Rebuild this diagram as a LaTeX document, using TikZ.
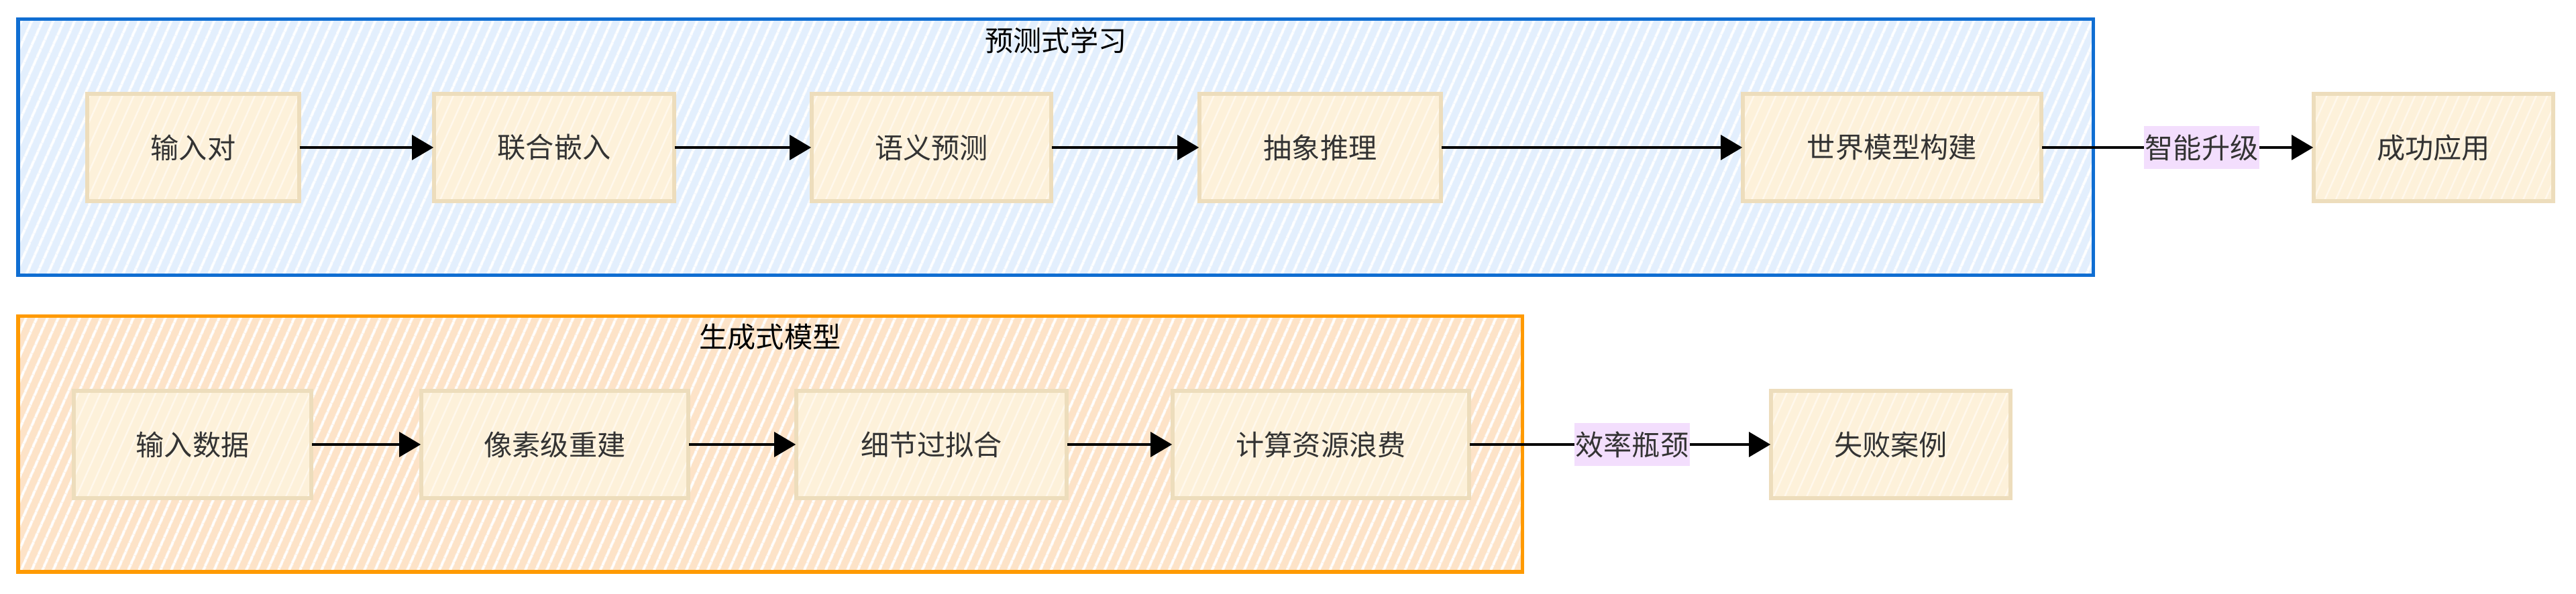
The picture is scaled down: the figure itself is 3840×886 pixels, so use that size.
\documentclass[tikz,border=0pt]{standalone}
\usepackage{fontspec}
\setmainfont{Noto Sans CJK SC}
\usetikzlibrary{arrows.meta,patterns.meta}
\definecolor{bluefill}{HTML}{E3EFFD}
\definecolor{bluedraw}{HTML}{106ED2}
\definecolor{orangefill}{HTML}{FDE3C8}
\definecolor{orangedraw}{HTML}{FF9A00}
\definecolor{nodefill}{HTML}{FDF1DA}
\definecolor{nodehatch}{HTML}{FFF8EC}
\definecolor{nodedraw}{HTML}{EDDDBC}
\definecolor{labelfill}{HTML}{F3DEFD}
\definecolor{textdark}{HTML}{333333}
\tikzset{
  bluegroup/.style={fill=bluefill,
    postaction={pattern={Lines[angle=66,distance=0.14cm,line width=0.04cm]}, pattern color=white},
    postaction={draw=bluedraw, line width=0.05cm}},
  orangegroup/.style={fill=orangefill,
    postaction={pattern={Lines[angle=66,distance=0.14cm,line width=0.04cm]}, pattern color=white},
    postaction={draw=orangedraw, line width=0.05cm}},
  stepbox/.style={rectangle, fill=nodefill,
    postaction={pattern={Lines[angle=66,distance=0.15cm,line width=0.025cm]}, pattern color=nodehatch},
    postaction={draw=nodedraw, line width=0.055cm},
    minimum height=1.6cm, inner sep=0pt, text=textdark,
    font=\fontsize{12pt}{14pt}\selectfont},
  grouptitle/.style={font=\fontsize{12pt}{14pt}\selectfont, text=black, inner sep=0pt},
  elabel/.style={fill=labelfill, text=textdark, inner sep=0.02cm, minimum height=0.64cm,
    font=\fontsize{12pt}{14pt}\selectfont},
  arr/.style={draw=black, line width=0.9pt, -{Triangle[length=0.32cm,width=0.37cm]}},
}
\begin{document}
\begin{tikzpicture}[x=0.01cm,y=-0.01cm]
\fill[white] (0,0) rectangle (3840,886);
\useasboundingbox (0,0) rectangle (3840,886);

% containers
\path[bluegroup] (27,29) rectangle (3120,411);
\node[grouptitle] (t1) at (1574,60) {预测式学习};
\path[orangegroup] (27,472) rectangle (2269,853);
\node[grouptitle] (t2) at (1148,503) {生成式模型};

% top row
\node[stepbox, minimum width=3.16cm] (a1) at (288,220) {输入对};
\node[stepbox, minimum width=3.58cm] (a2) at (826,220) {联合嵌入};
\node[stepbox, minimum width=3.57cm] (a3) at (1388.5,220) {语义预测};
\node[stepbox, minimum width=3.60cm] (a4) at (1968,220) {抽象推理};
\node[stepbox, minimum width=4.45cm] (a5) at (2820.5,220) {世界模型构建};
\node[stepbox, minimum width=3.57cm] (a6) at (3627.5,220) {成功应用};

% bottom row
\node[stepbox, minimum width=3.54cm] (b1) at (287,663) {输入数据};
\node[stepbox, minimum width=3.98cm] (b2) at (827,663) {像素级重建};
\node[stepbox, minimum width=4.03cm] (b3) at (1388.5,663) {细节过拟合};
\node[stepbox, minimum width=4.42cm] (b4) at (1969,663) {计算资源浪费};
\node[stepbox, minimum width=3.57cm] (b5) at (2818.5,663) {失败案例};

% connectors
\draw[arr] (a1) -- (a2);
\draw[arr] (a2) -- (a3);
\draw[arr] (a3) -- (a4);
\draw[arr] (a4) -- (a5);
\draw[arr] (a5) -- node[elabel, pos=0.589] (l1) {智能升级} (a6);

\draw[arr] (b1) -- (b2);
\draw[arr] (b2) -- (b3);
\draw[arr] (b3) -- (b4);
\draw[arr] (b4) -- node[elabel, pos=0.54] (l2) {效率瓶颈} (b5);
\end{tikzpicture}
\end{document}
